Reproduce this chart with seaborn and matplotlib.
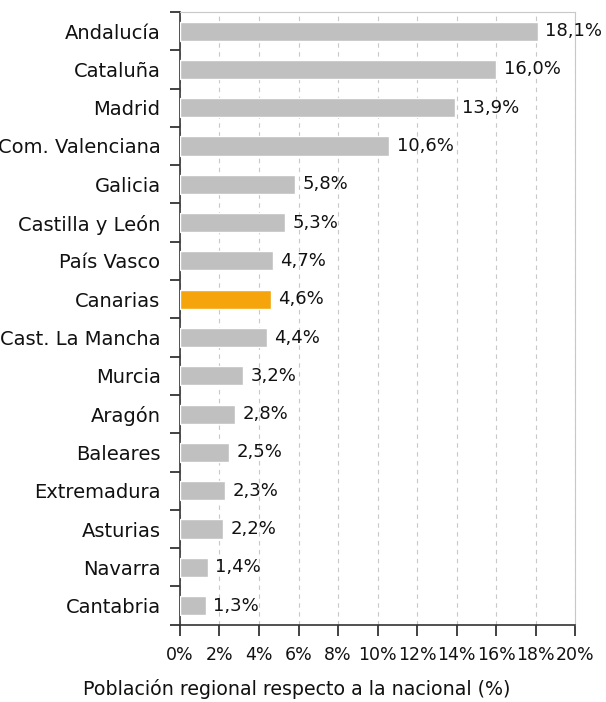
import numpy as np
import pandas as pd
import matplotlib
matplotlib.use("Agg")
import matplotlib.pyplot as plt
from matplotlib.ticker import FixedLocator
import seaborn as sns

regiones = ["Andalucía", "Cataluña", "Madrid", "Com. Valenciana", "Galicia",
            "Castilla y León", "País Vasco", "Canarias", "Cast. La Mancha",
            "Murcia", "Aragón", "Baleares", "Extremadura", "Asturias",
            "Navarra", "Cantabria"]
porcentaje = [18.1, 16.0, 13.9, 10.6, 5.8, 5.3, 4.7, 4.6, 4.4,
              3.2, 2.8, 2.5, 2.3, 2.2, 1.4, 1.3]
destacada = "Canarias"
x_ticks = [0, 2, 4, 6, 8, 10, 12, 14, 16, 18, 20]

df = pd.DataFrame({"region": regiones, "pct": porcentaje})
colores = {r: ("#f5a40c" if r == destacada else "#c0c0c0") for r in regiones}

sns.set_style("white")
plt.rcParams["font.family"] = ["DejaVu Sans"]

fig = plt.figure(figsize=(6.06, 7.02), dpi=100)
ax = fig.add_axes([0.297, 0.110, 0.652, 0.873])

sns.barplot(data=df, y="region", x="pct", hue="region", palette=colores,
            legend=False, orient="h", width=0.5, saturation=1, ax=ax, zorder=3)

for i, v in enumerate(porcentaje):
    ax.text(v + 0.38, i, f"{v:.1f}%".replace(".", ","), va="center", ha="left",
            fontsize=13, color="#111111", zorder=4)

ax.set_xlim(0, 20)
ax.set_ylim(len(regiones) - 0.5, -0.5)
ax.set_xticks(x_ticks)
ax.set_xticklabels([f"{t}%" for t in x_ticks], fontsize=12.5, color="#111111")
ax.set_xlabel("")
ax.set_ylabel("")
fig.text(0.49, 0.0185, "Población regional respecto a la nacional (%)",
         ha="center", va="center", fontsize=13.7, color="#111111")

ax.tick_params(axis="y", which="major", left=True, length=0, labelsize=14,
               labelcolor="#111111", pad=14)
ax.yaxis.set_minor_locator(FixedLocator(np.arange(-0.5, len(regiones), 1.0)))
ax.tick_params(axis="y", which="minor", left=True, length=7.5, width=1.2,
               color="#222222", direction="out")
ax.tick_params(axis="x", which="major", bottom=True, length=8, width=1.2,
               color="#222222", direction="out", pad=7)

ax.grid(axis="x", linestyle=(0, (4, 4)), color="#c8c8c8", linewidth=0.8, zorder=0)
ax.grid(axis="y", visible=False)

for s in ["top", "right"]:
    ax.spines[s].set_color("#c8c8c8")
    ax.spines[s].set_linewidth(0.8)
for s in ["left", "bottom"]:
    ax.spines[s].set_color("#333333")
    ax.spines[s].set_linewidth(1.2)

fig.savefig("out.png", dpi=100)
